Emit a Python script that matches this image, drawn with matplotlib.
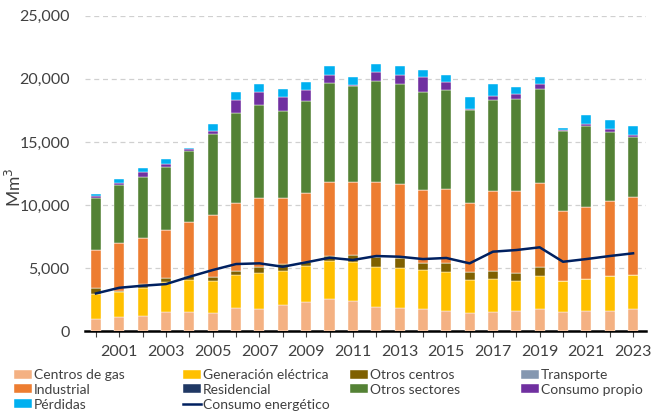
import numpy as np
import matplotlib
matplotlib.use("Agg")
from matplotlib import pyplot as plt
from matplotlib.ticker import FuncFormatter

plt.rcParams['font.family'] = ['Lato', 'DejaVu Sans']

years = list(range(2000, 2024))

# layer values (Mm3)
centros_gas = [930, 1090, 1215, 1485, 1530, 1405, 1800, 1720, 2040, 2300, 2515, 2380,
               1880, 1800, 1720, 1590, 1405, 1485, 1590, 1720, 1485, 1565, 1610, 1720]
generacion = [1985, 1980, 2225, 2430, 2520, 2565, 2645, 2910, 2750, 2885, 3065, 3120,
              3175, 3225, 3125, 3070, 2645, 2645, 2355, 2670, 2460, 2565, 2730, 2725]
otros_centros = [475, 105, 290, 315, 320, 340, 345, 475, 505, 315, 375, 535,
                 845, 745, 580, 765, 660, 635, 685, 715, 0, 0, 0, 0]
transporte = [0] * 24
industrial = [3040, 3815, 3680, 3790, 4260, 4875, 5350, 5480, 5240, 5430, 5900, 5795,
              5905, 5900, 5770, 5875, 5480, 6350, 6485, 6670, 5605, 5740, 5980, 6195]
residencial = [0] * 24
otros_sectores = [4110, 4600, 4840, 5025, 5685, 6455, 7145, 7360, 6880, 7280, 7785, 7600,
                  7995, 7940, 7755, 7785, 7305, 7175, 7305, 7440, 6305, 6355, 5505, 4740]
consumo_propio = [180, 190, 400, 190, 100, 260, 1005, 1005, 1115, 875, 690, 100,
                  740, 720, 1160, 635, 110, 390, 370, 345, 80, 185, 190, 180]
perdidas = [130, 260, 270, 420, 140, 535, 630, 640, 660, 665, 655, 580,
            635, 655, 615, 610, 950, 930, 555, 610, 160, 740, 685, 740]
consumo_energetico = [2990, 3440, 3600, 3730, 4310, 4845, 5320, 5375, 5105, 5455, 5820, 5640,
                      5955, 5900, 5715, 5800, 5375, 6300, 6430, 6645, 5500, 5715, 5955, 6170]

series = [
    ('Centros de gas', centros_gas, '#F4B183'),
    ('Generación eléctrica', generacion, '#FFC000'),
    ('Otros centros', otros_centros, '#7F6000'),
    ('Transporte', transporte, '#8497B0'),
    ('Industrial', industrial, '#ED7D31'),
    ('Residencial', residencial, '#203864'),
    ('Otros sectores', otros_sectores, '#548235'),
    ('Consumo propio', consumo_propio, '#7030A0'),
    ('Pérdidas', perdidas, '#00B0F0'),
]

fig = plt.figure(figsize=(6.54, 4.16), dpi=100)
ax = fig.add_axes([0.130, 0.204, 0.858, 0.758])

x = np.arange(len(years))
bottom = np.zeros(len(years))
handles = {}
for name, vals, col in series:
    vals = np.array(vals, dtype=float)
    b = ax.bar(x, vals, width=0.43, bottom=bottom, color=col, label=name,
               edgecolor='white', linewidth=0.3, zorder=3)
    handles[name] = b
    bottom += vals

line, = ax.plot(x, consumo_energetico, color='#002060', linewidth=1.8,
                label='Consumo energético', zorder=4)
handles['Consumo energético'] = line

ax.set_xlim(-0.47, 23.56)
ax.set_ylim(0, 25000)
ax.set_yticks(np.arange(0, 25001, 5000))
ax.yaxis.set_major_formatter(FuncFormatter(lambda v, p: f'{int(v):,}'))
ax.grid(axis='y', color='#D0D0D0', linestyle=(0, (4, 3)), linewidth=0.9, zorder=0)
ax.set_xticks(x)
ax.set_xticklabels([str(y) if y % 2 == 1 else '' for y in years])

for s in ['top', 'right', 'left']:
    ax.spines[s].set_visible(False)
ax.spines['bottom'].set_linewidth(1.8)
ax.spines['bottom'].set_color('black')
ax.tick_params(axis='y', length=0, labelsize=11.5, colors='#404040', pad=11)
ax.tick_params(axis='x', length=4, width=0.8, color='#404040', labelsize=11.5,
               labelcolor='#404040', pad=6)
ax.set_ylabel('Mm$^3$', fontsize=12.5, color='#404040')
ax.yaxis.set_label_coords(-0.108, 0.457)

# one legend per column, placed where the reference has them
columns = [
    (14, ['Centros de gas', 'Industrial', 'Pérdidas']),
    (183, ['Generación eléctrica', 'Residencial', 'Consumo energético']),
    (350, ['Otros centros', 'Otros sectores']),
    (521, ['Transporte', 'Consumo propio']),
]
for xpos, names in columns:
    leg = fig.legend([handles[k] for k in names], names,
                     loc='upper left', bbox_to_anchor=(xpos / 654, 1 - 369 / 416),
                     frameon=False, fontsize=10, handlelength=1.3, handleheight=0.6,
                     handletextpad=0.15, labelspacing=0.2, borderpad=0,
                     borderaxespad=0)
    for t in leg.get_texts():
        t.set_color('#404040')

fig.savefig('out.png', dpi=100)
